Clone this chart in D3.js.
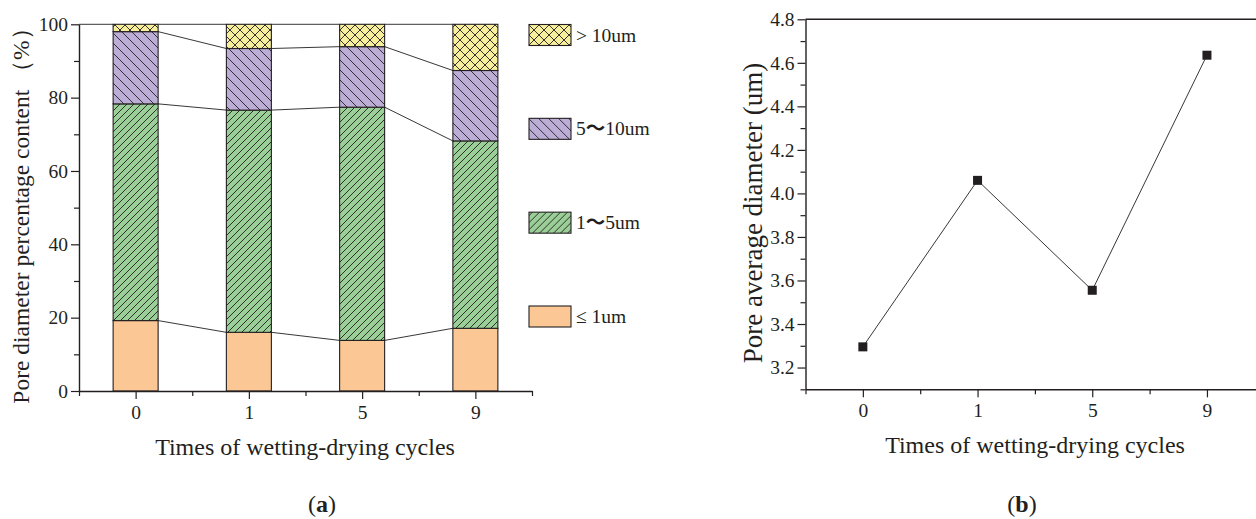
<!DOCTYPE html>
<html>
<head>
<meta charset="utf-8">
<script src="https://cdn.jsdelivr.net/npm/d3@7"></script>
<style>
  html, body { margin: 0; padding: 0; background: #fff; }
  svg { display: block; }
  svg text { font-family: "Liberation Serif", "Times New Roman", serif; fill: #231f20; }
</style>
</head>
<body>
<svg id="chart" width="1256" height="519"></svg>
<script>
// Wetting-drying cycle counts shared by both panels
const cycles = ["0", "1", "5", "9"];

// Panel (a): pore size distribution (%), stacked bottom to top
const sizeClasses = [["≤ 1um"], ["1", "～", "5um"], ["5", "～", "10um"], ["> 10um"]];
const under1 = [19.2, 16.0, 13.8, 17.1];
const from1to5 = [59.1, 60.6, 63.6, 51.1];
const from5to10 = [19.7, 16.8, 16.5, 19.2];
const over10 = [2.0, 6.6, 6.1, 12.6];
const percentTicks = [0, 20, 40, 60, 80, 100];

// Panel (b): average pore diameter (um)
const avgDiameter = [3.295, 4.06, 3.555, 4.635];
const diameterTicks = [3.2, 3.4, 3.6, 3.8, 4.0, 4.2, 4.4, 4.6, 4.8];

const ink = "#231f20";
const serif = "Liberation Serif";
const tickSize = "19.5px";
const svg = d3.select("#chart");

// ---------- hatch patterns ----------
const defs = svg.append("defs");
function hatch(id, fill, size, paths) {
  const p = defs.append("pattern").attr("id", id)
    .attr("patternUnits", "userSpaceOnUse").attr("width", size).attr("height", size);
  p.append("rect").attr("width", size).attr("height", size).attr("fill", fill);
  paths.forEach(d => p.append("path").attr("d", d).attr("stroke", ink)
    .attr("stroke-width", 0.9).attr("fill", "none"));
}
const s1 = 7, s2 = 10, s3 = 10;
hatch("pat-under1", "#fbc895", 8, []);
hatch("pat-1to5", "#9bcf98", s1, [`M0,${s1} L${s1},0`, `M-1,1 L1,-1`, `M${s1-1},${s1+1} L${s1+1},${s1-1}`]);
hatch("pat-5to10", "#bbadd5", s2, [`M0,0 L${s2},${s2}`, `M-1,${s2-1} L1,${s2+1}`, `M${s2-1},-1 L${s2+1},1`]);
hatch("pat-over10", "#f7ef9c", s3, [`M0,0 L${s3},${s3}`, `M0,${s3} L${s3},0`]);
const fills = ["url(#pat-under1)", "url(#pat-1to5)", "url(#pat-5to10)", "url(#pat-over10)"];

function styleAxis(g, isMajor, vertical) {
  g.attr("font-family", serif).attr("font-size", tickSize);
  g.select(".domain").attr("stroke", ink).attr("stroke-width", 1.4);
  g.selectAll(".tick line").attr("stroke", ink).attr("stroke-width", 1.2);
  if (vertical) {
    g.selectAll(".tick line").attr("x2", d => isMajor(d) ? -8 : -5);
    g.selectAll(".tick text").attr("x", -11);
  } else {
    g.selectAll(".tick line").attr("y2", d => isMajor(d) ? 8 : 5);
    g.selectAll(".tick text").attr("y", 14);
  }
  g.selectAll(".tick text").attr("fill", ink);
}

function panelLabel(g, x, letter) {
  g.append("text").attr("x", x).attr("y", 512).attr("text-anchor", "middle")
    .style("font-size", "24px")
    .call(t => {
      t.append("tspan").text("(");
      t.append("tspan").style("font-weight", "bold").text(letter);
      t.append("tspan").text(")");
    });
}

// ---------- panel (a) ----------
const a = { left: 79, right: 532, top: 24.3, bottom: 391 };
const xa = d3.scaleLinear().domain([-0.5, cycles.length - 0.5]).range([a.left, a.right]);
const ya = d3.scaleLinear().domain([0, 100]).range([a.bottom, a.top]);
const barW = 45;

const table = cycles.map((c, i) => ({
  cycle: c, i,
  under1: under1[i], from1to5: from1to5[i], from5to10: from5to10[i], over10: over10[i]
}));
const keys = ["under1", "from1to5", "from5to10", "over10"];
const stacked = d3.stack().keys(keys)(table);

const gA = svg.append("g");

// connecting lines between neighbouring bars at each boundary
stacked.map(layer => layer.map(d => d[1])).forEach(vals => {
  for (let i = 0; i < vals.length - 1; i++) {
    gA.append("line")
      .attr("x1", xa(i) + barW / 2).attr("y1", ya(vals[i]))
      .attr("x2", xa(i + 1) - barW / 2).attr("y2", ya(vals[i + 1]))
      .attr("stroke", ink).attr("stroke-width", 0.9);
  }
});
// line at 100 % from the axis to the first bar
gA.append("line").attr("x1", a.left).attr("x2", xa(0) - barW / 2)
  .attr("y1", ya(100)).attr("y2", ya(100)).attr("stroke", ink).attr("stroke-width", 0.9);

stacked.forEach((layer, k) => {
  gA.append("g").selectAll("rect").data(layer).join("rect")
    .attr("x", (d, i) => xa(i) - barW / 2)
    .attr("width", barW)
    .attr("y", d => ya(d[1]))
    .attr("height", d => ya(d[0]) - ya(d[1]))
    .attr("fill", fills[k])
    .attr("stroke", ink).attr("stroke-width", 1.1);
});

// y axis (a)
const majorPct = d => percentTicks.includes(d);
const gyA = gA.append("g").attr("transform", `translate(${a.left},0)`)
  .call(d3.axisLeft(ya).tickValues(d3.range(0, 101, 10)).tickSize(0)
    .tickFormat(d => majorPct(d) ? d : ""));
styleAxis(gyA, majorPct, true);

// x axis (a)
const majorIdx = d => Number.isInteger(d);
const gxA = gA.append("g").attr("transform", `translate(0,${a.bottom})`)
  .call(d3.axisBottom(xa).tickValues(d3.range(-0.5, cycles.length, 0.5)).tickSize(0)
    .tickFormat(d => majorIdx(d) ? cycles[d] : ""));
styleAxis(gxA, majorIdx, false);

gA.append("text").attr("x", 305).attr("y", 455).attr("text-anchor", "middle")
  .style("font-size", "24px").text("Times of wetting-drying cycles");
gA.append("text").attr("transform", "translate(29,210) rotate(-90)").attr("text-anchor", "middle")
  .style("font-size", "23.5px").text("Pore diameter percentage content （%）");

// legend (a)
const legendY = d3.scalePoint().domain(d3.range(4)).range([316.5, 35]);
const lg = gA.append("g").selectAll("g").data(sizeClasses).join("g")
  .attr("transform", (d, k) => `translate(529,${legendY(k)})`);
lg.append("rect").attr("x", 0).attr("y", -10.5).attr("width", 42).attr("height", 21)
  .attr("fill", (d, k) => fills[k]).attr("stroke", ink).attr("stroke-width", 1.1);
lg.append("text").attr("x", 47).attr("y", 6.5).style("font-size", tickSize)
  .each(function (parts) {
    const t = d3.select(this);
    parts.forEach(p => {
      const span = t.append("tspan").text(p);
      if (p === "～") span.style("font-family", "Noto Sans CJK SC").style("font-weight", "bold");
    });
  });

panelLabel(gA, 322, "a");

// ---------- panel (b) ----------
const b = { left: 805.5, top: 19.3, bottom: 389.3 };
const xb = d3.scaleLinear().domain([-0.5, cycles.length - 0.5]).range([b.left, b.left + 4 * 114.7]);
const yb = d3.scaleLinear().domain([3.1, 4.8]).range([b.bottom, b.top]);
const gB = svg.append("g");

gB.append("line").attr("x1", b.left).attr("x2", 1256).attr("y1", b.top).attr("y2", b.top)
  .attr("stroke", ink).attr("stroke-width", 1.4);

const majorDia = d => diameterTicks.some(t => Math.abs(t - d) < 1e-9);
const gyB = gB.append("g").attr("transform", `translate(${b.left},0)`)
  .call(d3.axisLeft(yb).tickValues(d3.range(31, 49).map(v => v / 10)).tickSize(0)
    .tickFormat(d => majorDia(d) ? d.toFixed(1) : ""));
styleAxis(gyB, majorDia, true);

const gxB = gB.append("g").attr("transform", `translate(0,${b.bottom})`)
  .call(d3.axisBottom(xb).tickValues(d3.range(-0.5, cycles.length, 0.5)).tickSize(0)
    .tickFormat(d => majorIdx(d) ? cycles[d] : ""));
styleAxis(gxB, majorIdx, false);

gB.append("path").datum(avgDiameter)
  .attr("d", d3.line().x((d, i) => xb(i)).y(d => yb(d)))
  .attr("fill", "none").attr("stroke", ink).attr("stroke-width", 0.9);
gB.selectAll("rect.pt").data(avgDiameter).join("rect").attr("class", "pt")
  .attr("x", (d, i) => xb(i) - 4.5).attr("y", d => yb(d) - 4.5)
  .attr("width", 9).attr("height", 9).attr("fill", ink);

gB.append("text").attr("x", 1035).attr("y", 453).attr("text-anchor", "middle")
  .style("font-size", "24px").text("Times of wetting-drying cycles");
gB.append("text").attr("transform", "translate(762,213) rotate(-90)").attr("text-anchor", "middle")
  .style("font-size", "27px").text("Pore average diameter (um)");

panelLabel(gB, 1022, "b");
</script>
</body>
</html>
